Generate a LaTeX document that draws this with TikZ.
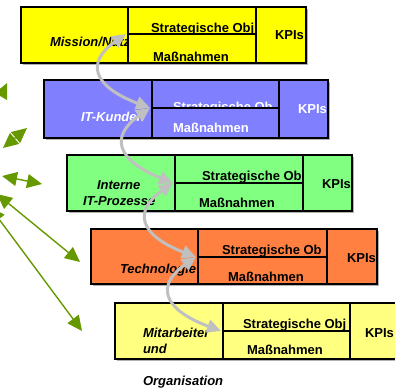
\documentclass[tikz,border=0pt]{standalone}
\usepackage{fontspec}
\setmainfont{Liberation Sans}
\usetikzlibrary{arrows.meta,fit,calc}

\definecolor{tierA}{RGB}{255,255,0}
\definecolor{tierB}{RGB}{128,128,255}
\definecolor{tierC}{RGB}{128,255,128}
\definecolor{tierD}{RGB}{255,128,64}
\definecolor{tierE}{RGB}{255,255,128}
\definecolor{linkgray}{RGB}{192,192,192}
\definecolor{leafgreen}{RGB}{102,153,0}

\tikzset{
  cell/.style={rectangle, inner sep=0pt, outer sep=0pt},
  cellrule/.style={draw=black, line width=2pt},
  boxshadow/.style={fill=black!30},
  lbl/.style={font=\fontsize{13}{16}\selectfont\bfseries, inner sep=0pt, outer sep=0pt},
  tierlbl/.style={lbl, font=\fontsize{13}{16}\selectfont\bfseries\itshape},
  link/.style={draw=linkgray, line width=3pt,
    {Triangle[length=14pt,width=13pt]}-{Triangle[length=14pt,width=13pt]}},
  sidearrow/.style={draw=leafgreen, line width=1.4pt,
    {Triangle[length=15pt,width=14pt]}-{Triangle[length=15pt,width=14pt]}},
}

% one tier: name, x left / divider / divider / right, y top / middle / bottom, fill
\newcommand\tier[9]{%
  \fill[boxshadow] ({#2+2},{#6+2}) rectangle ({#5+2},{#8+2});
  \node[cell, fill=#9, fit={(#2,#6) (#3,#8)}] (#1-l) {};
  \node[cell, fill=#9, fit={(#3,#6) (#4,#7)}] (#1-s) {};
  \node[cell, fill=#9, fit={(#3,#7) (#4,#8)}] (#1-m) {};
  \node[cell, fill=#9, fit={(#4,#6) (#5,#8)}] (#1-k) {};
}
% text kept inside its cell: cell, name, x, baseline y, style, text
\newcommand\celltext[6]{%
  \begin{scope}
    \clip (#1.south west) rectangle (#1.north east);
    \node[#5, anchor=base west] (#2) at (#3,#4) {#6};
  \end{scope}}
% outlines of the four cells of a tier
\newcommand\tierrules[1]{%
  \foreach \c in {l,s,m,k}{\draw[cellrule] (#1-\c.south west) rectangle (#1-\c.north east);}}

\begin{document}
\begin{tikzpicture}[x=1pt,y=-1pt]
\useasboundingbox (0,0) rectangle (395,389);
\clip (0,0) rectangle (395,389);

% green arrows on the left
\coordinate (ga1) at (3,148);   \coordinate (ga2) at (27,128);
\coordinate (gb1) at (2,176);   \coordinate (gb2) at (42,184);
\coordinate (gc1) at (-3,194);  \coordinate (gc2) at (80,262);
\coordinate (gd1) at (-10,207); \coordinate (gd2) at (82,331);
\fill[leafgreen] (7,83) -- (7,100) -- (-5,93) -- cycle;
\draw[sidearrow] (ga1) -- (ga2);
\draw[sidearrow] (gb1) -- (gb2);
\draw[sidearrow] (gc1) -- (gc2);
\draw[sidearrow] (gd1) -- (gd2);

% tiers
\tier{t1}{21}{128}{256}{306}{7}{34}{63}{tierA}
\celltext{t1-l}{t1-name}{50}{46}{tierlbl}{Mission/Nutz}
\celltext{t1-s}{t1-obj}{151}{32}{lbl}{Strategische Obj}
\celltext{t1-m}{t1-act}{153}{61.5}{lbl}{Maßnahmen}
\celltext{t1-k}{t1-kpi}{275}{39}{lbl}{KPIs}
\tierrules{t1}

\tier{t2}{44}{152}{279}{328}{80}{108}{138}{tierB}
\celltext{t2-l}{t2-name}{81}{121}{tierlbl,text=white}{IT-Kunden}
\celltext{t2-s}{t2-obj}{173}{111.5}{lbl,text=white}{Strategische Ob}
\celltext{t2-m}{t2-act}{173}{132}{lbl,text=white}{Maßnahmen}
\celltext{t2-k}{t2-kpi}{298}{113}{lbl,text=white}{KPIs}
\tierrules{t2}

\tier{t3}{67}{175}{303}{352}{155}{183}{211}{tierC}
\celltext{t3-l}{t3-name}{97}{189}{tierlbl}{Interne}
\celltext{t3-l}{t3-name2}{83}{205}{tierlbl}{IT-Prozesse}
\celltext{t3-s}{t3-obj}{202}{180}{lbl}{Strategische Ob}
\celltext{t3-m}{t3-act}{199}{207}{lbl}{Maßnahmen}
\celltext{t3-k}{t3-kpi}{322}{188}{lbl}{KPIs}
\tierrules{t3}

\tier{t4}{91}{198}{327}{377}{229}{257}{284}{tierD}
\celltext{t4-l}{t4-name}{120}{273}{tierlbl}{Technologie}
\celltext{t4-s}{t4-obj}{222}{254}{lbl}{Strategische Ob}
\celltext{t4-m}{t4-act}{228}{281}{lbl}{Maßnahmen}
\celltext{t4-k}{t4-kpi}{347}{262}{lbl}{KPIs}
\tierrules{t4}

\tier{t5}{115}{223}{350}{420}{303}{331}{359}{tierE}
\celltext{t5-l}{t5-name}{143}{337}{tierlbl}{Mitarbeiter}
\celltext{t5-l}{t5-name2}{143}{353}{tierlbl}{und}
\celltext{t5-s}{t5-obj}{243}{328}{lbl}{Strategische Obj}
\celltext{t5-m}{t5-act}{247}{354}{lbl}{Maßnahmen}
\celltext{t5-k}{t5-kpi}{365}{337}{lbl}{KPIs}
\tierrules{t5}
\node[tierlbl, anchor=base west] (t5-name3) at (143,385) {Organisation};

% grey links between the tiers
\foreach \n in {1,...,5}
  \coordinate (j\n) at ($(t\n-s.south west)+(-2,0)$);
\foreach \a/\b in {j1/j2, j2/j3, j3/j4, j4/j5}
  \draw[link] (\a) .. controls ($(\a)+(-40,28)$) and ($(\a)+(-34,52)$) .. (\b);
\end{tikzpicture}
\end{document}
